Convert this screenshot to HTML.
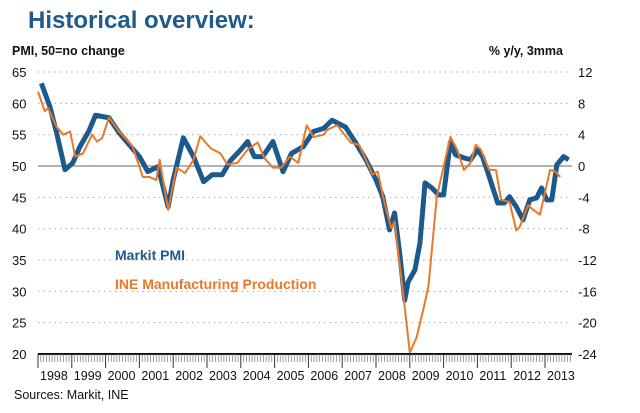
<!DOCTYPE html>
<html><head><meta charset="utf-8"><style>
body{margin:0;background:#fff;width:640px;height:413px;overflow:hidden;font-family:"Liberation Sans",Arial,sans-serif}
</style></head><body>
<svg id="c" width="640" height="413" style="position:absolute;left:0;top:0">
<text x="28" y="28" font-size="24" font-weight="bold" fill="#1f5a8a">Historical overview:</text>
<text x="12" y="55" font-size="12.5" font-weight="bold" fill="#111">PMI, 50=no change</text>
<text x="563" y="55" font-size="12.5" font-weight="bold" fill="#111" text-anchor="end">% y/y, 3mma</text>
<text x="115" y="260" font-size="14" font-weight="bold" fill="#1d5a8c">Markit PMI</text>
<text x="115" y="289" font-size="14" font-weight="bold" fill="#e8782a">INE Manufacturing Production</text>
<text x="14" y="399" font-size="12.5" fill="#111">Sources: Markit, INE</text>
<g id="g"></g>
</svg>
<script>
const leftTicks=[65,60,55,50,45,40,35,30,25,20];
const rightTicks=[12,8,4,0,-4,-8,-12,-16,-20,-24];
const years=[1998,1999,2000,2001,2002,2003,2004,2005,2006,2007,2008,2009,2010,2011,2012,2013];
const pmiT=[1998.1,1998.35,1998.55,1998.8,1999.03,1999.24,1999.5,1999.7,1999.9,2000.1,2000.4,2000.7,2001.0,2001.25,2001.55,2001.85,2002.0,2002.3,2002.6,2002.9,2003.15,2003.45,2003.7,2004.0,2004.2,2004.4,2004.65,2004.95,2005.25,2005.5,2005.85,2006.15,2006.45,2006.7,2007.1,2007.4,2007.7,2008.0,2008.2,2008.4,2008.55,2008.7,2008.85,2008.95,2009.15,2009.3,2009.45,2009.65,2009.85,2010.0,2010.2,2010.35,2010.6,2010.8,2011.0,2011.15,2011.35,2011.6,2011.8,2011.95,2012.15,2012.35,2012.55,2012.75,2012.9,2013.05,2013.2,2013.35,2013.55,2013.7];
const pmiV=[63.2,59.5,55.3,49.4,50.5,53.1,55.5,58.1,57.9,57.7,55.3,53.4,51.5,49.1,49.9,43.5,47.8,54.5,51.5,47.5,48.6,48.6,50.9,52.6,53.9,51.5,51.5,53.9,49.1,52.0,53.1,55.5,56.0,57.3,56.2,53.7,51.0,47.8,45.1,39.8,42.5,36.1,28.6,31.5,33.4,37.7,47.3,46.5,45.4,45.4,53.8,51.8,51.3,51.0,52.6,51.5,48.3,44.1,44.1,45.1,43.5,41.4,44.6,44.9,46.5,44.6,44.6,50.2,51.5,51.0];
const ineT=[1998.0,1998.2,1998.3,1998.55,1998.75,1998.95,1999.1,1999.33,1999.6,1999.75,1999.9,2000.1,2000.4,2000.8,2001.1,2001.3,2001.5,2001.6,2001.85,2002.1,2002.35,2002.6,2002.8,2003.1,2003.4,2003.6,2003.9,2004.2,2004.5,2004.7,2004.95,2005.2,2005.45,2005.7,2005.95,2006.15,2006.45,2006.55,2006.85,2007.25,2007.5,2007.9,2008.05,2008.25,2008.45,2008.55,2008.8,2009.0,2009.2,2009.4,2009.55,2009.8,2010.0,2010.2,2010.4,2010.6,2010.8,2010.95,2011.1,2011.35,2011.55,2011.7,2011.95,2012.15,2012.25,2012.5,2012.65,2012.85,2013.15,2013.3,2013.45];
const ineV=[9.5,7.0,7.4,5.0,4.0,4.4,1.2,1.6,4.0,3.1,3.6,6.2,4.4,2.5,-1.4,-1.4,-1.8,0.8,-5.6,-0.2,-0.9,0.8,3.8,2.3,1.6,0.2,0.4,2.1,3.0,1.0,-0.2,-0.2,1.2,0.4,5.2,3.7,4.0,4.6,5.2,3.0,2.7,-1.1,-0.7,-4.7,-7.9,-7.1,-16.2,-23.8,-21.9,-18.3,-15.4,-3.9,-0.1,3.7,2.1,-0.5,0.4,2.7,2.1,-0.5,-0.5,-4.3,-4.6,-8.2,-7.8,-5.0,-5.6,-6.2,-0.5,-0.7,-1.4];
const X0=38,X1=572,Y65=72,Y20=354;
const x=t=>X0+(t-1998)*33.8;
const yL=v=>Y65+(65-v)*(Y20-Y65)/45;
const yR=v=>Y65+(12-v)*(Y20-Y65)/36;
const g=document.getElementById('g'),NS='http://www.w3.org/2000/svg';
function mk(tag,attrs){const e=document.createElementNS(NS,tag);for(const k in attrs)e.setAttribute(k,attrs[k]);g.appendChild(e);return e;}
leftTicks.forEach((v,i)=>{
  if(v!==20){const l=mk('line',{x1:X0,x2:X1,y1:yL(v),y2:yL(v),stroke:v===50?'#888':'#aaa','stroke-width':v===50?1.2:1,'stroke-dasharray':v===50?'':'1.5,4'});
  
  }
  const t=mk('text',{x:12,y:yL(v)+5,'font-size':13,fill:'#111'});t.textContent=v;
  
  
});
rightTicks.forEach(v=>{
  const t=mk('text',{x:578,y:yR(v)+5,'font-size':13,fill:'#111'});t.textContent=v;
  
  
});
const ax=mk('line',{x1:X0,x2:X1,y1:Y20,y2:Y20,stroke:'#111','stroke-width':2});


for(let m=0;m<=190;m++){const t=1998+m/12;if(x(t)>X1)break;
  const major=m%12===0;
  const tk=mk('line',{x1:x(t),x2:x(t),y1:Y20,y2:Y20+(major?14:8),stroke:major?'#333':'#777','stroke-width':major?1:0.7});
  
  }
years.forEach(yr=>{const t=mk('text',{x:x(yr)+2,y:Y20+26,'font-size':12.5,fill:'#111'});t.textContent=yr;
  
  });
const pb=mk('polyline',{points:pmiT.map((t,i)=>x(t)+','+yL(pmiV[i])).join(' '),fill:'none',stroke:'#1d5a8c','stroke-width':5,'stroke-linejoin':'round'});


const po=mk('polyline',{points:ineT.map((t,i)=>x(t)+','+yR(ineV[i])).join(' '),fill:'none',stroke:'#e8782a','stroke-width':2,'stroke-linejoin':'round'});


</script>
</body></html>
